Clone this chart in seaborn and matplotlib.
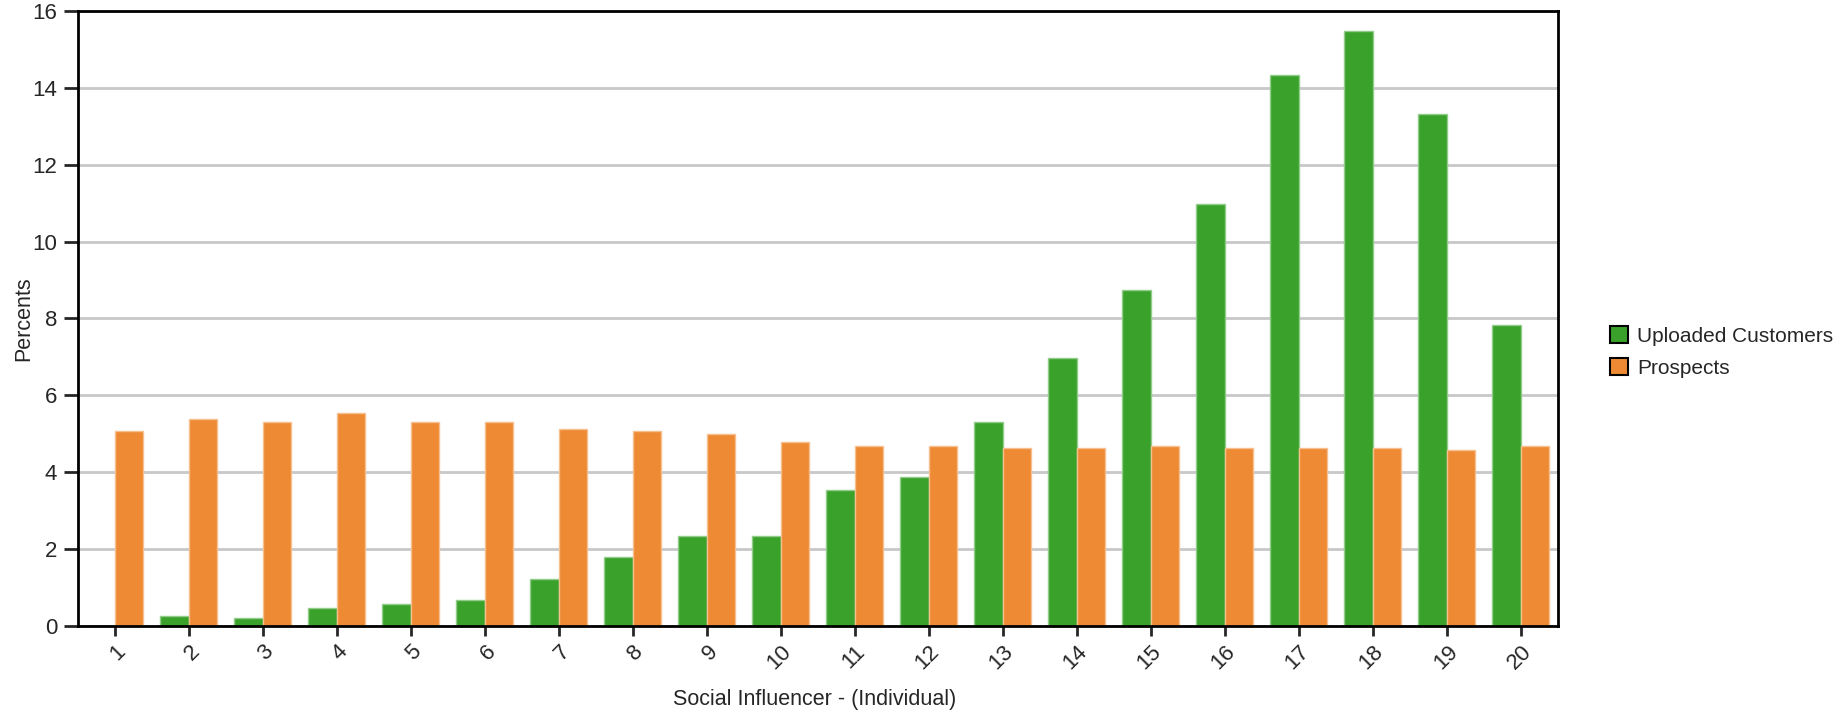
import pandas as pd
import numpy as np
import matplotlib
matplotlib.use('Agg')
import matplotlib.pyplot as plt
import seaborn as sns
from matplotlib.patches import Patch

# --- Data ---
influencers = [str(i) for i in range(1, 21)]
uploaded_customers = [0.0, 0.25, 0.20, 0.46, 0.56, 0.68, 1.21, 1.80, 2.33, 2.33,
                      3.55, 3.88, 5.32, 6.98, 8.75, 10.97, 14.34, 15.47, 13.33, 7.82]
prospects = [5.06, 5.38, 5.32, 5.53, 5.32, 5.32, 5.12, 5.06, 5.00, 4.78,
             4.68, 4.68, 4.62, 4.62, 4.68, 4.62, 4.62, 4.62, 4.57, 4.68]
series_names = ['Uploaded Customers', 'Prospects']
colors = ['#3AA22A', '#EE8A33']

df = pd.DataFrame({
    'Influencer': influencers * 2,
    'Percent': uploaded_customers + prospects,
    'Series': [series_names[0]] * 20 + [series_names[1]] * 20,
})

sns.set_style('white')
plt.rcParams['font.family'] = ['Liberation Sans', 'DejaVu Sans']

fig = plt.figure(figsize=(18.42, 7.15), dpi=100)
ax = fig.add_axes([0.0423, 0.1245, 0.8035, 0.8601])

sns.barplot(data=df, x='Influencer', y='Percent', hue='Series',
            order=influencers, hue_order=series_names,
            palette=colors, width=0.77, saturation=1, ax=ax, legend=False)

# light rim on each bar like the original renderer
for p in ax.patches:
    fc = np.array(p.get_facecolor()[:3])
    p.set_edgecolor(tuple(fc + (1 - fc) * 0.45))
    p.set_linewidth(1.0)

ax.set_ylim(0, 16)
ax.set_xlim(-0.5, 19.5)
ax.set_yticks(range(0, 17, 2))
ax.yaxis.grid(True, color='#c8c8c8', linewidth=2)
ax.set_axisbelow(True)

for s in ax.spines.values():
    s.set_visible(True)
    s.set_color('black')
    s.set_linewidth(2)

ax.tick_params(axis='y', direction='out', length=10, width=2, labelsize=16,
               left=True, pad=5)
ax.tick_params(axis='x', direction='out', length=7, width=2, labelsize=16,
               bottom=True, pad=4)
plt.setp(ax.get_xticklabels(), rotation=45, ha='right', rotation_mode='anchor')

ax.set_ylabel('Percents', fontsize=15.5, va='center')
ax.yaxis.set_label_coords(-0.0365, 0.5)
ax.set_xlabel('Social Influencer - (Individual)', fontsize=15.5, va='center')
ax.xaxis.set_label_coords(0.498, -0.12)

handles = [Patch(facecolor=c, edgecolor='black', linewidth=1.5) for c in colors]
fig.legend(handles, series_names, loc='center left',
           bbox_to_anchor=(0.8695, 0.508), frameon=False, fontsize=15,
           handlelength=0.85, handleheight=0.85, handletextpad=0.45,
           labelspacing=0.6, borderaxespad=0)

fig.savefig('out.png', dpi=100)
